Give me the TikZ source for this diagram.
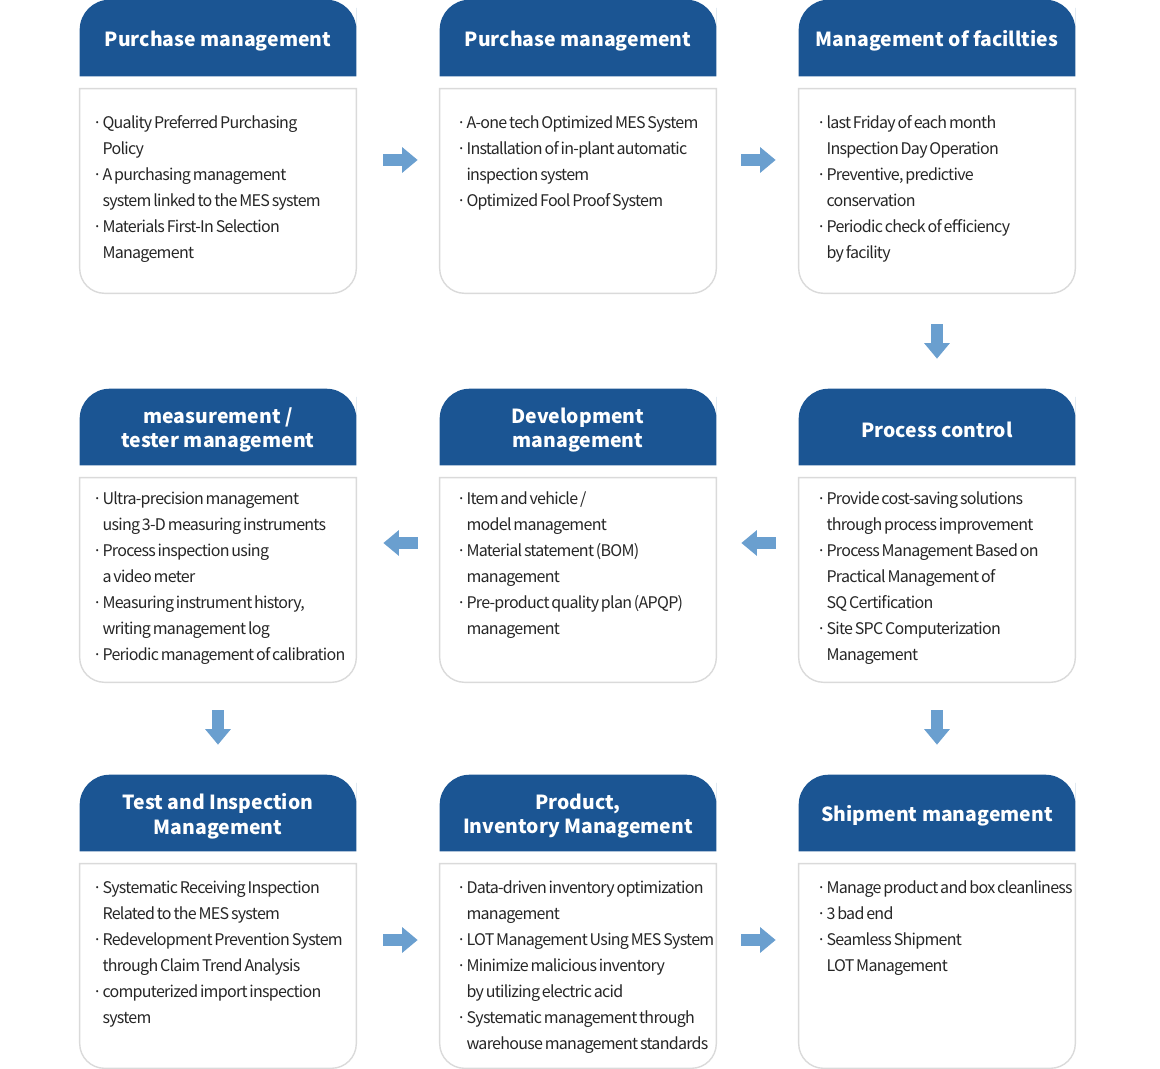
\documentclass[tikz,border=0pt]{standalone}
\usepackage{fontspec}
\setmainfont{Noto Sans CJK KR}
\newfontfamily\cardfont[LetterSpace=-4.5,WordSpace=0.65]{Noto Sans CJK KR}
\usepackage{tikz}
\usetikzlibrary{arrows.meta,backgrounds}
\definecolor{hdrblue}{HTML}{1B5593}
\definecolor{flowblue}{HTML}{6A9FCF}
\definecolor{cardline}{HTML}{DADADA}
\definecolor{cardtext}{HTML}{262626}
\tikzset{
  hdr/.style={minimum width=6.9cm,minimum height=1.9cm,inner sep=0pt},
  title/.style={inner sep=0pt,text=white,align=center,font=\bfseries\fontsize{13.8}{17.5}\selectfont},
  cardbody/.style={minimum width=6.9cm,minimum height=5.1cm,inner sep=0pt},
  txt/.style={anchor=north west,inner sep=0pt,align=left,text=cardtext,font=\cardfont\fontsize{11.4}{18.5}\selectfont},
  flow/.style={flowblue,line width=9pt,-{Triangle[length=11pt,width=17.5pt]}},
}
\newcommand\bul{\strut·\kern0.4pt}
\newcommand\cnt{\hphantom{·\kern0.4pt}}
% #1 name, #2 x, #3 top, #4 title, #5 text dy, #6 text dx, #7 lines
\newcommand\flowcard[7]{%
  \node[hdr] (h#1) at (#2,#3+38) {};
  \node[title] (n#1) at ([shift={(0,3)}]h#1.center) {#4};
  \node[cardbody] (b#1) at (#2,#3+191) {};
  \node[txt] (t#1) at ([shift={(#6,#5)}]b#1.north west) {#7};
  \begin{scope}[on background layer]
    \fill[hdrblue] (h#1.south west) -- (h#1.west) [rounded corners=.75cm] -- (h#1.north west)
      -- (h#1.north east) -- (h#1.east) [sharp corners] -- (h#1.south east) -- cycle;
    \draw[cardline,line width=1pt] (b#1.north west) -- (b#1.west) [rounded corners=.62cm] -- (b#1.south west)
      -- (b#1.south east) -- (b#1.east) [sharp corners] -- (b#1.north east) -- cycle;
  \end{scope}}
\begin{document}
\begin{tikzpicture}[x=0.025cm,y=-0.025cm]
  \useasboundingbox (0,0) rectangle (1160,1069);
  % row 1
  \flowcard{1}{218}{0}{Purchase management}{21}{13}{%
    \bul Quality Preferred Purchasing\\ \cnt Policy\\
    \bul A purchasing management\\ \cnt system linked to the MES system\\
    \bul Materials First-In Selection\\ \cnt Management}
  \flowcard{2}{578}{0}{Purchase management}{21}{17}{%
    \bul A-one tech Optimized MES System\\
    \bul Installation of in-plant automatic\\ \cnt inspection system\\
    \bul Optimized Fool Proof System}
  \flowcard{3}{937}{0}{Management of facillties}{21}{18}{%
    \bul last Friday of each month\\ \cnt Inspection Day Operation\\
    \bul Preventive, predictive\\ \cnt conservation\\
    \bul Periodic check of efficiency\\ \cnt by facility}
  % row 2
  \flowcard{4}{937}{389}{Process control}{8}{18}{%
    \bul Provide cost-saving solutions\\ \cnt through process improvement\\
    \bul Process Management Based on\\ \cnt Practical Management of\\ \cnt SQ Certification\\
    \bul Site SPC Computerization\\ \cnt Management}
  \flowcard{5}{578}{389}{Development\\ management}{8}{17}{%
    \bul Item and vehicle /\\ \cnt model management\\
    \bul Material statement (BOM)\\ \cnt management\\
    \bul Pre-product quality plan (APQP)\\ \cnt management}
  \flowcard{6}{218}{389}{measurement /\\ tester management}{8}{13}{%
    \bul Ultra-precision management\\ \cnt using 3-D measuring instruments\\
    \bul Process inspection using\\ \cnt a video meter\\
    \bul Measuring instrument history,\\ \cnt writing management log\\
    \bul Periodic management of calibration}
  % row 3
  \flowcard{7}{218}{775}{Test and Inspection\\ Management}{11}{13}{%
    \bul Systematic Receiving Inspection\\ \cnt Related to the MES system\\
    \bul Redevelopment Prevention System\\ \cnt through Claim Trend Analysis\\
    \bul computerized import inspection\\ \cnt system}
  \flowcard{8}{578}{775}{Product,\\ Inventory Management}{11}{17}{%
    \bul Data-driven inventory optimization\\ \cnt management\\
    \bul LOT Management Using MES System\\
    \bul Minimize malicious inventory\\ \cnt by utilizing electric acid\\
    \bul Systematic management through\\ \cnt warehouse management standards}
  \flowcard{9}{937}{775}{Shipment management}{11}{18}{%
    \bul Manage product and box cleanliness\\
    \bul 3 bad end\\
    \bul Seamless Shipment\\ \cnt LOT Management}
  % flow arrows
  \draw[flow] ([shift={(27,-31)}]b1.east) -- ([shift={(-22,-31)}]b2.west);
  \draw[flow] ([shift={(25,-31)}]b2.east) -- ([shift={(-23,-31)}]b3.west);
  \draw[flow] ([shift={(0,31)}]b3.south) -- ([shift={(0,-30)}]h4.north);
  \draw[flow] ([shift={(-23,-37)}]b4.west) -- ([shift={(25,-37)}]b5.east);
  \draw[flow] ([shift={(-22,-37)}]b5.west) -- ([shift={(27,-37)}]b6.east);
  \draw[flow] ([shift={(0,28)}]b6.south) -- ([shift={(0,-30)}]h7.north);
  \draw[flow] ([shift={(0,28)}]b4.south) -- ([shift={(0,-30)}]h9.north);
  \draw[flow] ([shift={(27,-26)}]b7.east) -- ([shift={(-22,-26)}]b8.west);
  \draw[flow] ([shift={(25,-26)}]b8.east) -- ([shift={(-23,-26)}]b9.west);
\end{tikzpicture}
\end{document}
